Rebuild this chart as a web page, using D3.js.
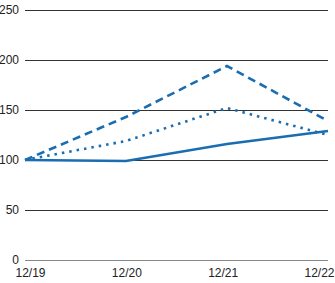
<!DOCTYPE html>
<html>
<head>
<meta charset="utf-8">
<script src="https://cdn.jsdelivr.net/npm/d3@7"></script>
<style>
  body { margin: 0; background: #fff; }
  text { font-family: "Liberation Sans Narrow", "Liberation Sans", Arial, sans-serif; }
</style>
</head>
<body>
<div class="chart"></div>
<script>
// Data
const periods = ['12/19', '12/20', '12/21', '12/22'];
const companyVals = [100, 99, 116, 129];
const indexAVals = [100, 143, 194, 139];
const indexBVals = [100, 119, 152, 125];
const yTicks = [0, 50, 100, 150, 200, 250];

const w = 335, h = 283;
const margin = {top: 10, right: 7, bottom: 23, left: 25};
const width = w - margin.left - margin.right,
    height = h - margin.top - margin.bottom;

const svg = d3.select('.chart')
    .append('svg')
        .attr('width', w)
        .attr('height', h)
        .append('g')
            .attr('transform', `translate(${margin.left},${margin.top})`);

// Scales
const xScale = d3.scalePoint()
    .domain(periods)
    .range([0, width]);
const labelScale = d3.scalePoint()
    .domain(periods)
    .range([5, width - 9]);
const yScale = d3.scaleLinear()
    .domain([0, 250])
    .range([height, 0]);

// Grid lines + y labels
const yAxis = svg.append('g')
    .call(d3.axisLeft(yScale)
        .tickValues(yTicks)
        .tickSize(-width)
        .tickPadding(6));
yAxis.select('.domain').remove();
yAxis.selectAll('line')
    .attr('stroke', d => d === 0 ? '#888' : '#333')
    .attr('stroke-width', 1);
yAxis.selectAll('text')
    .style('font-size', '12px')
    .attr('fill', '#222');

// x labels
const xAxis = svg.append('g')
    .attr('transform', `translate(0, ${height})`)
    .call(d3.axisBottom(labelScale).tickSize(0).tickPadding(8));
xAxis.select('.domain').remove();
xAxis.selectAll('text')
    .style('font-size', '12px')
    .attr('fill', '#222');

// Lines
const series = [
    {vals: companyVals, dash: null},
    {vals: indexAVals, dash: '8,5'},
    {vals: indexBVals, dash: '2.5,5'}
];
const line = d3.line()
    .x((d, i) => xScale(periods[i]))
    .y(d => yScale(d));

svg.selectAll('.series')
    .data(series)
    .enter()
        .append('path')
        .attr('class', 'series')
        .attr('d', d => line(d.vals))
        .attr('fill', 'none')
        .attr('stroke', '#1a6db1')
        .attr('stroke-width', 2.6)
        .attr('stroke-dasharray', d => d.dash);
</script>
</body>
</html>
